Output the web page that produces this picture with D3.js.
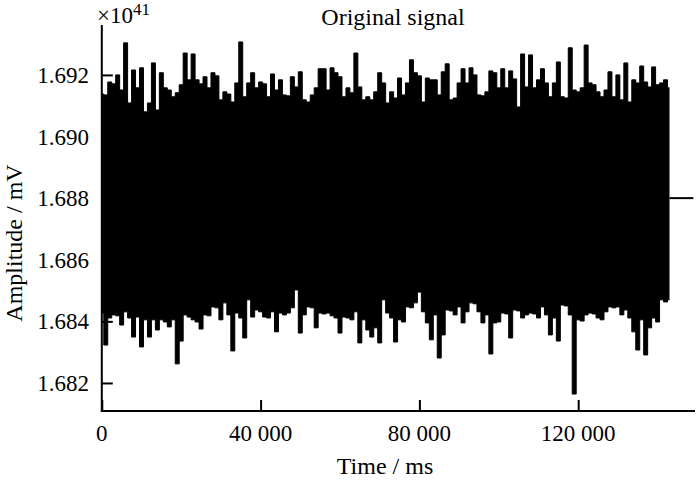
<!DOCTYPE html>
<html><head><meta charset="utf-8">
<script src="https://cdn.jsdelivr.net/npm/d3@7"></script>
<style>
html,body{margin:0;padding:0;background:#fff;}
svg{display:block;font-family:"Liberation Serif","Times New Roman",serif;}
</style></head>
<body>
<svg id="chart" width="700" height="481"></svg>
<script>
// ---- data (values in units of 1e41 mV, one sample column per 1000 ms) ----
const sampleStep = 1000;
const upper = [
1.69138,1.69135,1.69177,1.69171,1.69200,1.69151,1.69304,1.69109,1.69216,1.69158,
1.69223,1.69080,1.69109,1.69239,1.69086,1.69207,1.69158,1.69151,1.69129,1.69142,
1.69168,1.69271,1.69184,1.69268,1.69184,1.69171,1.69194,1.69158,1.69207,1.69197,
1.69119,1.69145,1.69138,1.69112,1.69174,1.69307,1.69129,1.69174,1.69207,1.69158,
1.69177,1.69171,1.69129,1.69203,1.69151,1.69184,1.69135,1.69132,1.69194,1.69161,
1.69210,1.69119,1.69112,1.69135,1.69158,1.69220,1.69220,1.69151,1.69223,1.69207,
1.69194,1.69129,1.69158,1.69142,1.69271,1.69161,1.69119,1.69129,1.69119,1.69145,
1.69207,1.69174,1.69109,1.69145,1.69125,1.69190,1.69135,1.69174,1.69249,1.69207,
1.69197,1.69112,1.69190,1.69184,1.69184,1.69135,1.69210,1.69236,1.69119,1.69125,
1.69174,1.69220,1.69174,1.69223,1.69200,1.69135,1.69132,1.69145,1.69213,1.69207,
1.69158,1.69220,1.69158,1.69213,1.69187,1.69096,1.69268,1.69161,1.69265,1.69158,
1.69184,1.69220,1.69174,1.69129,1.69174,1.69242,1.69129,1.69125,1.69288,1.69151,
1.69145,1.69158,1.69297,1.69174,1.69168,1.69145,1.69129,1.69151,1.69210,1.69129,
1.69200,1.69119,1.69239,1.69112,1.69184,1.69174,1.69229,1.69177,1.69161,1.69226,
1.69168,1.69174,1.69184,1.69158
];
const lower = [
1.68427,1.68323,1.68411,1.68421,1.68418,1.68388,1.68431,1.68411,1.68349,1.68414,
1.68317,1.68405,1.68349,1.68405,1.68372,1.68405,1.68398,1.68382,1.68405,1.68262,
1.68336,1.68421,1.68414,1.68405,1.68398,1.68375,1.68421,1.68418,1.68447,1.68444,
1.68405,1.68460,1.68421,1.68304,1.68427,1.68411,1.68346,1.68470,1.68414,1.68437,
1.68431,1.68414,1.68411,1.68431,1.68366,1.68427,1.68421,1.68427,1.68444,1.68502,
1.68362,1.68421,1.68447,1.68444,1.68379,1.68427,1.68424,1.68427,1.68418,1.68411,
1.68362,1.68414,1.68411,1.68405,1.68431,1.68330,1.68405,1.68372,1.68349,1.68379,
1.68330,1.68470,1.68427,1.68411,1.68333,1.68405,1.68398,1.68447,1.68444,1.68460,
1.68495,1.68431,1.68395,1.68340,1.68421,1.68281,1.68356,1.68437,1.68434,1.68421,
1.68447,1.68395,1.68431,1.68460,1.68457,1.68431,1.68395,1.68421,1.68294,1.68395,
1.68398,1.68427,1.68424,1.68346,1.68437,1.68434,1.68411,1.68421,1.68427,1.68424,
1.68411,1.68447,1.68421,1.68356,1.68411,1.68336,1.68453,1.68450,1.68421,1.68164,
1.68405,1.68401,1.68421,1.68427,1.68424,1.68411,1.68405,1.68431,1.68447,1.68444,
1.68447,1.68421,1.68437,1.68411,1.68366,1.68307,1.68405,1.68291,1.68379,1.68411,
1.68398,1.68470,1.68463,1.68470
];
const tailTime = [143000, 149000];
const tailValue = [1.688, 1.688];
const xTicks = [0, 40000, 80000, 120000];
const yTicks = [1.682, 1.684, 1.686, 1.688, 1.690, 1.692];
const title = "Original signal";
const xTitle = "Time / ms";
const yTitle = "Amplitude / mV";

// ---- layout ----
const svg = d3.select("#chart");
const x = d3.scaleLinear().domain([0, 149500]).range([101.8, 695.3]);
const y = d3.scaleLinear().domain([1.68109, 1.69362]).range([411, 25]);
const loc = d3.formatLocale({decimal: ".", thousands: " ", grouping: [3], currency: ["", ""]});
const fmtX = loc.format(",d");
const fmtY = d3.format(".3f");

const samples = upper.map((u, i) => ({t: i * sampleStep, hi: u, lo: lower[i]}));

// signal body
const area = d3.area()
  .x(d => x(d.t))
  .y0(d => y(d.lo))
  .y1(d => y(d.hi))
  .curve(d3.curveStep);
svg.append("path").datum(samples).attr("d", area).attr("fill", "#000");
svg.append("path").datum(samples)
  .attr("d", d3.line().x(d => x(d.t)).y(d => y(d.hi)).curve(d3.curveStep))
  .attr("fill", "none").attr("stroke", "#000").attr("stroke-width", 1);
svg.append("path").datum(samples)
  .attr("d", d3.line().x(d => x(d.t)).y(d => y(d.lo)).curve(d3.curveStep))
  .attr("fill", "none").attr("stroke", "#000").attr("stroke-width", 1);

// flat tail
svg.append("path").datum(tailTime.map((t, i) => [t, tailValue[i]]))
  .attr("d", d3.line().x(d => x(d[0])).y(d => y(d[1])))
  .attr("stroke", "#000").attr("stroke-width", 2).attr("fill", "none");

// axes
const yAxis = d3.axisRight(y).tickValues(yTicks).tickSize(11).tickFormat("");
const gy = svg.append("g").attr("transform", `translate(${x(0)},0)`).call(yAxis);
gy.select(".domain").remove();
gy.selectAll("line").attr("stroke", "#000").attr("stroke-width", 2);
svg.append("line").attr("x1", x(0)).attr("x2", x(0)).attr("y1", 25).attr("y2", 412)
  .attr("stroke", "#000").attr("stroke-width", 2);

const xAxis = d3.axisTop(x).tickValues(xTicks).tickSize(11).tickFormat("");
const gx = svg.append("g").attr("transform", `translate(0,411)`).call(xAxis);
gx.select(".domain").remove();
gx.selectAll("line").attr("stroke", "#000").attr("stroke-width", 2);
svg.append("line").attr("x1", x(0) - 1).attr("x2", 695).attr("y1", 411).attr("y2", 411)
  .attr("stroke", "#000").attr("stroke-width", 2);

// tick labels
svg.append("g").selectAll("text").data(yTicks).join("text")
  .attr("x", 89).attr("y", d => y(d)).attr("dy", "0.35em")
  .attr("text-anchor", "end").attr("font-size", 23).text(fmtY);
svg.append("g").selectAll("text").data(xTicks).join("text")
  .attr("x", d => x(d)).attr("y", 441)
  .attr("text-anchor", "middle").attr("font-size", 23).text(fmtX);

// titles
svg.append("text").attr("x", 393).attr("y", 25).attr("text-anchor", "middle")
  .attr("font-size", 24).text(title);
svg.append("text").attr("x", 385).attr("y", 474).attr("text-anchor", "middle")
  .attr("font-size", 24).text(xTitle);
svg.append("text").attr("transform", "translate(22,243) rotate(-90)")
  .attr("text-anchor", "middle").attr("font-size", 24).text(yTitle);

// exponent
const ex = svg.append("text").attr("x", 97).attr("y", 23).attr("font-size", 23);
ex.append("tspan").text("×10");
ex.append("tspan").attr("dy", -8).attr("font-size", 17).text("41");
</script>
</body></html>
